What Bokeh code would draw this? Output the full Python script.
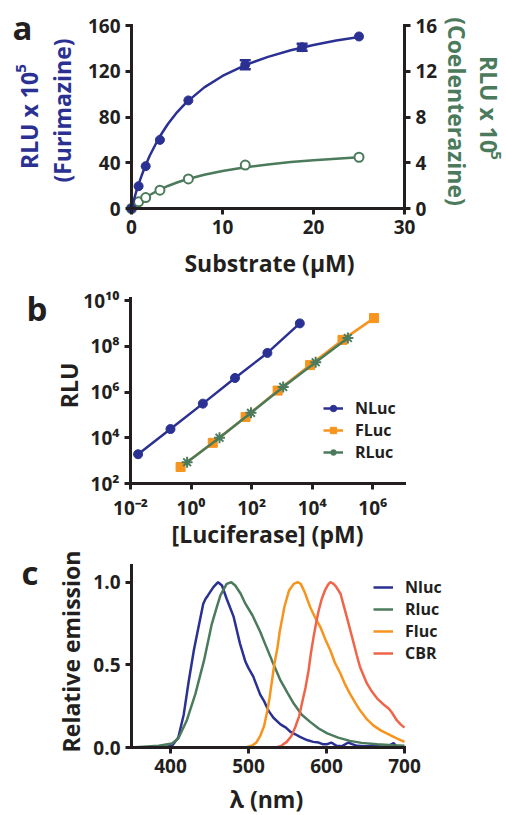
import math
from bokeh.plotting import figure
from bokeh.models import (Range1d, LinearAxis, Label, Legend, LegendItem, Whisker, TeeHead,
                          ColumnDataSource, FixedTicker, CustomJSTickFormatter, NumeralTickFormatter)
from bokeh.layouts import column
from bokeh.embed import file_html
from bokeh.resources import INLINE

FONT = "Open Sans"
AX = "#231f20"
BLUE = "#2b3192"
GREEN = "#4b7b5c"
ORANGE = "#f7941d"
RED = "#f0654a"
W = 506
TITLE = "23px"
LETTER = "33px"

# ---------------- panel a data ----------------
a_x_furi = [0, 0.78, 1.56, 3.125, 6.25, 12.5, 18.75, 25]
a_y_furi = [0, 19.5, 37, 60, 94.5, 125.7, 141, 150.4]
a_err_furi = [0, 0, 0, 0, 0, 4, 3, 0]
a_x_coel = [0, 0.78, 1.56, 3.125, 6.25, 12.5, 25]
a_y_coel = [0, 0.58, 0.96, 1.6, 2.59, 3.8, 4.48]
# fitted curves
a_fit_x = [0, 0.5, 1, 1.5, 2, 3, 4, 5, 6, 8, 10, 12.5, 15, 17.5, 20, 22.5, 25]
a_fit_furi = [0, 14.2, 26.3, 36.9, 46.1, 61.6, 73.9, 84.1, 92.6, 105.9, 115.9, 125.4, 132.6, 138.4, 143.0, 146.8, 150.0]
a_fit_coel = [0, 0.35, 0.65, 0.93, 1.18, 1.61, 1.97, 2.27, 2.53, 2.95, 3.28, 3.60, 3.85, 4.06, 4.22, 4.36, 4.48]
a_xticks = [0, 10, 20, 30]
a_yticks = [0, 40, 80, 120, 160]
a_y2ticks = [0, 4, 8, 12, 16]

# ---------------- panel b data ----------------
b_nluc_x = [0.0178, 0.209, 2.45, 28.2, 331, 3890]
b_nluc_y = [1900, 24000, 310000, 4.1e6, 5.1e7, 1.0e9]
b_fluc_x = [0.45, 5.2, 63, 720, 8500, 1.0e5, 1.1e6]
b_fluc_y = [525, 6000, 81000, 1.15e6, 1.5e7, 1.9e8, 1.7e9]
b_rluc_x = [0.74, 8.7, 95, 1100, 13000, 1.5e5]
b_rluc_y = [850, 10000, 123000, 1.66e6, 2.0e7, 2.3e8]
b_xticks = [1e-2, 1e0, 1e2, 1e4, 1e6]
b_xlabels = ["10\u207b\u00b2", "10\u2070", "10\u00b2", "10\u2074", "10\u2076"]
b_yticks = [1e2, 1e4, 1e6, 1e8, 1e10]
b_ylabels = ["10\u00b2", "10\u2074", "10\u2076", "10\u2078", "10\u00b9\u2070"]

# ---------------- panel c data ----------------
c_nluc_x = [350, 390, 402, 410, 417, 423, 430, 436, 442, 445, 448, 455, 461, 466, 472, 481, 489, 496, 500, 506,
            515, 520, 526, 532, 541, 548, 554, 560, 566, 575, 583, 590, 595, 601, 606, 613, 620, 628, 633, 639,
            650, 660, 672, 680, 686, 690, 700]
c_nluc_y = [0, 0, 0.01, 0.06, 0.2, 0.39, 0.59, 0.73, 0.87, 0.9, 0.92, 0.97, 1.0, 0.98, 0.9, 0.79, 0.63, 0.52, 0.48, 0.43,
            0.32, 0.28, 0.22, 0.18, 0.14, 0.12, 0.094, 0.08, 0.064, 0.045, 0.034, 0.03, 0.02, 0.02, 0.03, 0.01, 0.008,
            0.03, 0.02, 0.01, 0.008, 0.01, 0.005, 0.01, 0.026, 0.005, 0]
c_rluc_x = [350, 385, 402, 410, 421, 432, 443, 453, 460, 464, 472, 478, 483, 490, 496, 505, 515, 521, 530, 541,
            550, 558, 568, 579, 590, 601, 615, 630, 645, 665, 685, 700]
c_rluc_y = [0, 0.01, 0.024, 0.054, 0.165, 0.326, 0.527, 0.748, 0.86, 0.92, 0.99, 1.0, 0.98, 0.93, 0.87, 0.80, 0.70,
            0.63, 0.527, 0.406, 0.33, 0.266, 0.2, 0.155, 0.115, 0.085, 0.06, 0.04, 0.028, 0.02, 0.013, 0.01]
c_fluc_x = [350, 495, 500, 505, 510, 515, 520, 524, 527, 530, 533, 537, 540, 546, 552, 558, 563, 567, 572, 579,
            585, 592, 598, 605, 611, 618, 624, 630, 637, 643, 652, 660, 669, 677, 690, 700]
c_fluc_y = [0, 0, 0.005, 0.012, 0.03, 0.07, 0.13, 0.22, 0.3, 0.4, 0.5, 0.6, 0.7, 0.85, 0.95, 0.99, 1.0, 0.99, 0.94,
            0.85, 0.79, 0.73, 0.66, 0.587, 0.51, 0.446, 0.38, 0.326, 0.27, 0.225, 0.17, 0.134, 0.105, 0.085, 0.055, 0.034]
c_cbr_x = [350, 535, 542, 549, 555, 560, 565, 568.5, 573, 577, 580, 583.4, 587, 590, 594, 598, 602, 605, 609, 612,
           618, 622, 626, 631, 635, 639, 643, 648, 652, 658, 665, 672, 680, 684, 690, 695, 700]
c_cbr_y = [0, 0, 0.01, 0.034, 0.07, 0.124, 0.19, 0.266, 0.36, 0.466, 0.57, 0.668, 0.76, 0.829, 0.9, 0.95, 0.985,
           1.0, 0.99, 0.975, 0.93, 0.86, 0.79, 0.7, 0.628, 0.555, 0.487, 0.43, 0.386, 0.34, 0.296, 0.265, 0.235,
           0.21, 0.165, 0.14, 0.12]
c_xticks = [400, 500, 600, 700]
c_yticks = [0, 0.5, 1.0]


def span_x(v0, p0, v1, p1, log=False):
    """range so that value v0 sits at canvas x p0 and v1 at p1"""
    if log:
        v0, v1 = math.log10(v0), math.log10(v1)
    s = (p1 - p0) / (v1 - v0)
    a, b = v0 - p0 / s, v0 + (W - p0) / s
    return Range1d(10 ** a, 10 ** b) if log else Range1d(a, b)


def span_y(v0, p0, v1, p1, H, log=False):
    """p measured from top of canvas"""
    if log:
        v0, v1 = math.log10(v0), math.log10(v1)
    s = (p0 - p1) / (v1 - v0)
    a, b = v0 - (H - p0) / s, v0 + p0 / s
    return Range1d(10 ** a, 10 ** b) if log else Range1d(a, b)


def style_axis(ax, size="19px"):
    ax.axis_line_width = 3
    ax.axis_line_color = AX
    ax.axis_line_cap = "square"
    ax.major_tick_line_width = 3
    ax.major_tick_line_color = AX
    ax.major_tick_out = 6
    ax.major_tick_in = 0
    ax.minor_tick_line_color = None
    ax.major_label_text_font = FONT
    ax.major_label_text_font_style = "bold"
    ax.major_label_text_font_size = size
    ax.major_label_text_color = AX
    ax.major_label_standoff = 5


def lab(p, H, x, y, text, size, color=AX, angle=0.0, align="center", baseline="middle"):
    # x, y in canvas pixels from top-left
    p.add_layout(Label(x=x, y=H - y, x_units="screen", y_units="screen", text=text, angle=angle,
                       text_font=FONT, text_font_size=size, text_font_style="bold", text_color=color,
                       text_align=align, text_baseline=baseline))


def base_fig(H, xr, yr, **kw):
    p = figure(width=W, height=H, x_range=xr, y_range=yr, output_backend="svg", title=None,
               toolbar_location=None, min_border=0, **kw)
    p.grid.visible = False
    p.outline_line_color = None
    return p


def legend(items, loc, spacing):
    return Legend(items=items, location=loc, padding=0, margin=0, spacing=spacing, glyph_width=20,
                  glyph_height=16, label_height=16, label_standoff=12, border_line_alpha=0,
                  background_fill_alpha=0, label_text_font=FONT, label_text_font_style="bold",
                  label_text_font_size="16px", label_text_color=AX)


# ================= panel a =================
HA = 280
pa = base_fig(HA, span_x(0, 131, 30, 404), span_y(0, 208, 160, 25, HA))
ry = span_y(0, 208, 16, 25, HA)
pa.extra_y_ranges = {"right": ry}
pa.add_layout(LinearAxis(y_range_name="right"), "right")
for ax in pa.axis:
    style_axis(ax)
pa.xaxis.fixed_location = 0
pa.xaxis.bounds = (0, 30)
pa.xaxis.ticker = FixedTicker(ticks=a_xticks)
pa.yaxis[0].fixed_location = 0
pa.yaxis[0].bounds = (0, 160)
pa.yaxis[0].ticker = FixedTicker(ticks=a_yticks)
pa.yaxis[1].fixed_location = 30
pa.yaxis[1].bounds = (0, 16)
pa.yaxis[1].ticker = FixedTicker(ticks=a_y2ticks)

pa.line(a_fit_x, a_fit_coel, y_range_name="right", line_color=GREEN, line_width=2.5)
pa.scatter(a_x_coel, a_y_coel, y_range_name="right", marker="circle", size=9,
           fill_color="white", line_color=GREEN, line_width=2)
pa.line(a_fit_x, a_fit_furi, line_color=BLUE, line_width=2.5)
pa.scatter(a_x_furi, a_y_furi, marker="circle", size=9, fill_color=BLUE, line_color=BLUE)
eb = [(x, y, e) for x, y, e in zip(a_x_furi, a_y_furi, a_err_furi) if e > 0]
esrc = ColumnDataSource(dict(base=[t[0] for t in eb], upper=[t[1] + t[2] for t in eb],
                             lower=[t[1] - t[2] for t in eb]))
pa.add_layout(Whisker(source=esrc, base="base", upper="upper", lower="lower", line_color=BLUE, line_width=2.5,
                      upper_head=TeeHead(size=11, line_color=BLUE, line_width=2.5),
                      lower_head=TeeHead(size=11, line_color=BLUE, line_width=2.5)))

lab(pa, HA, 12, 27, "a", LETTER, align="left")
lab(pa, HA, 269, 262, "Substrate (\u03bcM)", TITLE)
lab(pa, HA, 28, 120, "RLU x 10", TITLE, color=BLUE, angle=math.pi / 2)
lab(pa, HA, 20, 68, "5", "15px", color=BLUE, angle=math.pi / 2)
lab(pa, HA, 61, 110, "(Furimazine)", TITLE, color=BLUE, angle=math.pi / 2)
lab(pa, HA, 456, 111, "(Coelenterazine)", TITLE, color=GREEN, angle=-math.pi / 2)
lab(pa, HA, 488, 104, "RLU x 10", TITLE, color=GREEN, angle=-math.pi / 2)
lab(pa, HA, 495, 155, "5", "15px", color=GREEN, angle=-math.pi / 2)

# ================= panel b =================
HB = 269
pb = base_fig(HB, span_x(1e-2, 130, 1e6, 372.3, log=True), span_y(1e2, 203, 1e10, 20, HB, log=True),
              x_axis_type="log", y_axis_type="log")
for ax in pb.axis:
    style_axis(ax)
fmt_code = """
for (let i = 0; i < tvals.length; i++) {
  if (Math.abs(Math.log10(tick) - Math.log10(tvals[i])) < 1e-6) { return tlabels[i]; }
}
return "";
"""
pb.xaxis.fixed_location = 1e2
pb.xaxis.bounds = (1e-2, 10 ** 7.05)
pb.xaxis.ticker = FixedTicker(ticks=b_xticks)
pb.xaxis.formatter = CustomJSTickFormatter(args=dict(tvals=b_xticks, tlabels=b_xlabels), code=fmt_code)
pb.yaxis.fixed_location = 1e-2
pb.yaxis.bounds = (1e2, 10 ** 10.08)
pb.yaxis.ticker = FixedTicker(ticks=b_yticks)
pb.yaxis.formatter = CustomJSTickFormatter(args=dict(tvals=b_yticks, tlabels=b_ylabels), code=fmt_code)

l_f = pb.line(b_fluc_x, b_fluc_y, line_color=ORANGE, line_width=2.5)
s_f = pb.scatter(b_fluc_x, b_fluc_y, marker="square", size=9, fill_color=ORANGE, line_color=ORANGE)
l_r = pb.line(b_rluc_x, b_rluc_y, line_color=GREEN, line_width=2.5)
s_r = pb.scatter(b_rluc_x, b_rluc_y, marker="asterisk", size=11, line_color=GREEN, line_width=2)
l_n = pb.line(b_nluc_x, b_nluc_y, line_color=BLUE, line_width=2.5)
s_n = pb.scatter(b_nluc_x, b_nluc_y, marker="circle", size=9, fill_color=BLUE, line_color=BLUE)

pb.add_layout(legend([LegendItem(label="NLuc", renderers=[l_n, s_n]),
                      LegendItem(label="FLuc", renderers=[l_f, s_f]),
                      LegendItem(label="RLuc", renderers=[l_r, s_r])], (323, 86), 0))

lab(pb, HB, 26, 28, "b", LETTER, align="left")
lab(pb, HB, 68, 105, "RLU", TITLE, angle=math.pi / 2)
lab(pb, HB, 267, 253, "[Luciferase] (pM)", TITLE)

# ================= panel c =================
HC = 266
pc = base_fig(HC, span_x(350, 131, 700, 404), span_y(0, 198, 1.0, 32.7, HC))
for ax in pc.axis:
    style_axis(ax)
pc.xaxis.fixed_location = 0
pc.xaxis.bounds = (350, 700)
pc.xaxis.ticker = FixedTicker(ticks=c_xticks)
pc.yaxis.fixed_location = 350
pc.yaxis.bounds = (0, 1.1)
pc.yaxis.ticker = FixedTicker(ticks=c_yticks)
pc.yaxis.formatter = NumeralTickFormatter(format="0.0")

r_n = pc.line(c_nluc_x, c_nluc_y, line_color=BLUE, line_width=2.5)
r_r = pc.line(c_rluc_x, c_rluc_y, line_color=GREEN, line_width=2.5)
r_f = pc.line(c_fluc_x, c_fluc_y, line_color=ORANGE, line_width=2.5)
r_c = pc.line(c_cbr_x, c_cbr_y, line_color=RED, line_width=2.5)

pc.add_layout(legend([LegendItem(label="Nluc", renderers=[r_n]),
                      LegendItem(label="Rluc", renderers=[r_r]),
                      LegendItem(label="Fluc", renderers=[r_f]),
                      LegendItem(label="CBR", renderers=[r_c])], (373, 151), 0))

lab(pc, HC, 21, 23, "c", LETTER, align="left")
lab(pc, HC, 70, 102, "Relative emission", TITLE, angle=math.pi / 2)
lab(pc, HC, 266, 249, "\u03bb (nm)", TITLE)

layout = column(pa, pb, pc, spacing=0)
open("out.html", "w").write(file_html(layout, INLINE))
